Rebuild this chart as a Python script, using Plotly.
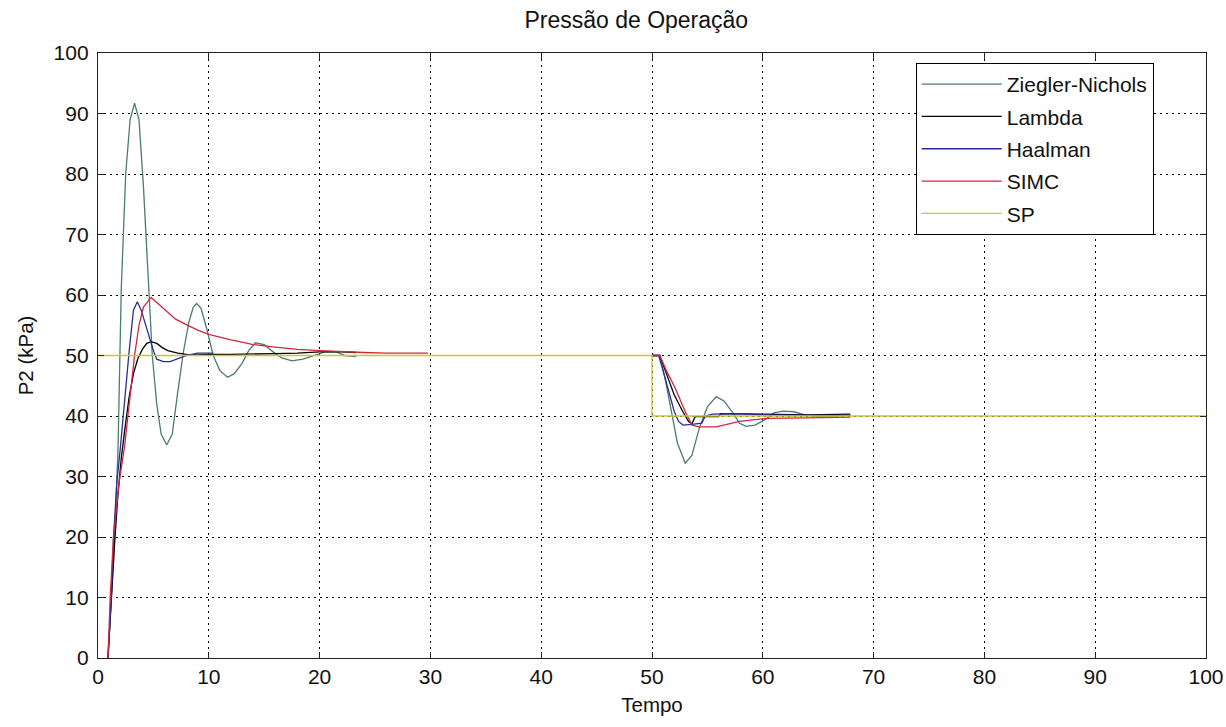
import plotly.graph_objects as go

# ---------------- data ----------------
zn_t1 = [0.9, 1.2, 1.5, 1.8, 2.1, 2.5, 2.9, 3.3, 3.7, 4.1, 4.5, 4.9, 5.3, 5.7, 6.2, 6.7, 7.2, 7.7, 8.2, 8.6,
         8.9, 9.3, 9.8, 10.4, 11.0, 11.7, 12.3, 13.0, 13.6, 14.2, 15.0, 15.8, 16.6, 17.5, 18.5, 19.5, 20.5,
         21.5, 22.3, 23.3]
zn_v1 = [0, 10, 20, 34, 61, 80, 89, 91.7, 89, 78, 64, 50, 42, 37, 35.2, 37, 44, 50.5, 55.5, 58,
         58.6, 57.8, 54.5, 50, 47.5, 46.4, 47, 48.7, 50.8, 52.1, 51.8, 50.6, 49.6, 49.1, 49.4, 50, 50.6,
         50.6, 50.0, 49.8]
zn_t2 = [50, 50.7, 51.2, 51.8, 52.3, 53.0, 53.6, 54.3, 55.0, 55.8, 56.5, 57.3, 57.9, 58.5, 59.3, 60.3,
         61.0, 61.8, 62.8, 63.8, 65.0, 66.5, 67.9]
zn_v2 = [50, 50, 46, 40, 35.5, 32.2, 33.5, 38.2, 41.5, 43.2, 42.5, 40.5, 38.8, 38.3, 38.5, 39.5,
         40.5, 40.8, 40.7, 40.2, 39.9, 40.0, 40.1]

lam_t1 = [0.9, 1.2, 1.5, 1.8, 2.1, 2.4, 2.8, 3.2, 3.6, 4.0, 4.4, 4.8, 5.3, 5.8, 6.3, 7.2, 8.0, 9.0, 10.0,
          12, 14, 16, 18, 20, 22, 23.3]
lam_v1 = [0, 10, 19, 27, 33, 37.5, 43, 47, 49.5, 51, 52, 52.3, 52, 51.3, 50.8, 50.4, 50.2, 50.1, 50.2,
          50.2, 50.2, 50.3, 50.4, 50.6, 50.6, 50.5]
lam_t2 = [50, 50.7, 51.3, 52.0, 52.7, 53.3, 53.6, 53.9, 56.0, 56.2, 60, 64, 67.9]
lam_v2 = [50, 50, 47, 43.5, 41, 39.1, 38.7, 39.9, 39.9, 40.4, 40.3, 40.2, 40.3]

haal_t1 = [0.9, 1.2, 1.4, 1.7, 2.0, 2.4, 2.8, 3.2, 3.55, 3.9, 4.3, 4.7, 5.0, 5.3, 5.9, 6.5, 7.0, 7.5,
           8.0, 9.0, 10.4]
haal_v1 = [0, 10, 20, 29, 34.4, 42.6, 50.5, 57.5, 58.9, 57.5, 55, 52.6, 50.8, 49.4, 49.0, 49.0, 49.3,
           49.7, 50.0, 50.4, 50.4]
haal_t2 = [50, 50.6, 51.0, 51.6, 52.0, 52.4, 52.8, 53.6, 54.5, 54.8, 55.5, 57.5, 60, 64, 67.9]
haal_v2 = [50, 50, 47.5, 43.5, 40.8, 39.1, 38.5, 38.6, 38.8, 40.0, 40.3, 40.4, 40.2, 40.1, 40.1]

simc_t1 = [0.9, 1.1, 1.4, 1.9, 2.4, 2.9, 3.3, 3.7, 4.1, 4.8, 5.5, 6.0, 7.0, 8.2, 9.0, 10.0, 11.0, 12.0,
           13.0, 14.0, 16.0, 18.0, 20.0, 22.0, 24.0, 26.0, 28.0, 29.8]
simc_v1 = [0, 10, 20, 29, 35, 44, 50, 55, 58, 59.6, 58.5, 57.6, 56, 54.9, 54.2, 53.5, 53, 52.6,
           52.2, 51.8, 51.4, 51.0, 50.8, 50.6, 50.5, 50.4, 50.4, 50.4]
simc_t2 = [50, 50.7, 51.3, 52.1, 53.0, 53.6, 54.3, 55.8, 57.9, 60.3, 64, 67.9]
simc_v2 = [50, 50, 47.5, 44.6, 40.7, 38.5, 38.2, 38.2, 39.1, 39.6, 39.7, 39.8]

sp_t = [0, 50, 50, 100]
sp_v = [50, 50, 40, 40]

x_ticks = list(range(0, 101, 10))
y_ticks = list(range(0, 101, 10))

FONT = "Liberation Sans, Arial, sans-serif"


def join(t1, v1, t2, v2):
    return t1 + [None] + t2, v1 + [None] + v2


series = [
    ("Ziegler-Nichols", "#4b7c6e", join(zn_t1, zn_v1, zn_t2, zn_v2)),
    ("Lambda", "#000000", join(lam_t1, lam_v1, lam_t2, lam_v2)),
    ("Haalman", "#2a2a9e", join(haal_t1, haal_v1, haal_t2, haal_v2)),
    ("SIMC", "#d0283c", join(simc_t1, simc_v1, simc_t2, simc_v2)),
    ("SP", "#c8c832", (sp_t, sp_v)),
]

fig = go.Figure()
for name, color, (tx, vy) in series:
    fig.add_trace(go.Scatter(
        x=tx, y=vy, mode="lines", name=name, legendgroup=name,
        line=dict(color=color, width=1.3), connectgaps=False,
    ))

axis_common = dict(
    showline=True, linecolor="#222222", linewidth=1.3, mirror="ticks",
    ticks="inside", ticklen=6, tickcolor="#222222", tickwidth=1.3,
    showgrid=True, gridcolor="#000000", gridwidth=1, griddash="2px,4px",
    zeroline=False, automargin=False,
    tickfont=dict(family=FONT, size=21, color="#111111"),
)

fig.update_layout(
    width=1226, height=727,
    margin=dict(l=98, r=20, t=53, b=69),
    paper_bgcolor="white", plot_bgcolor="white",
    title=dict(text="Pressão de Operação", x=0.519, xanchor="center", y=0.973, yanchor="middle",
               font=dict(family=FONT, size=23, color="#111111")),
    xaxis=dict(range=[0, 100], tickvals=x_ticks,
               title=dict(text="Tempo", font=dict(family=FONT, size=20.5, color="#111111"), standoff=10),
               **axis_common),
    yaxis=dict(range=[0, 100], tickvals=y_ticks, ticklabelstandoff=4,
               title=dict(text="P2 (kPa)", font=dict(family=FONT, size=20.5, color="#111111"), standoff=14),
               **axis_common),
    legend=dict(x=0.738, y=0.9835, xanchor="left", yanchor="top",
                bgcolor="white", bordercolor="#000000", borderwidth=1,
                font=dict(family=FONT, size=21, color="#111111"),
                tracegroupgap=2, itemwidth=80),
    showlegend=True,
)

fig.write_html("out.html")
